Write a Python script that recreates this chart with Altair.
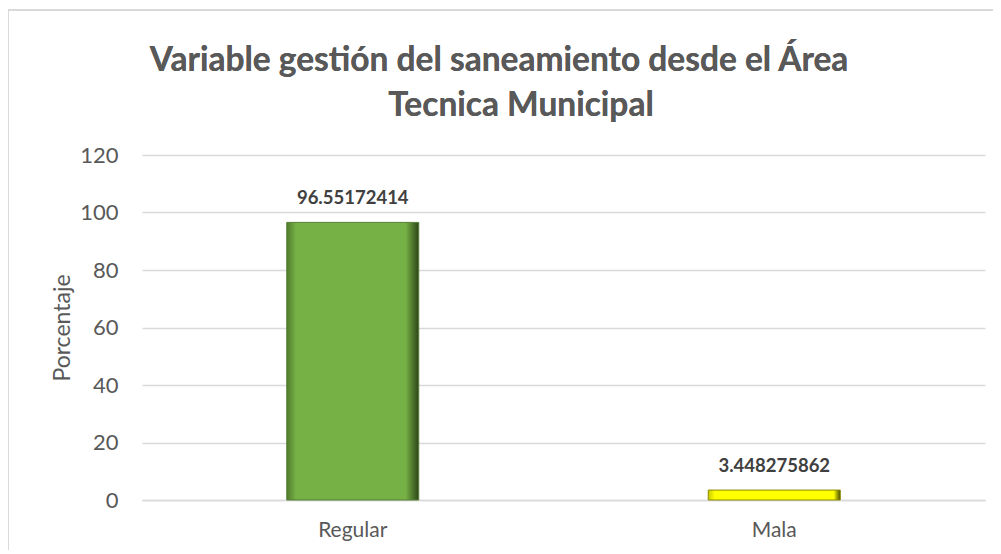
import altair as alt
import pandas as pd

categories = ["Regular", "Mala"]
values = [96.55172414, 3.448275862]
labels = ["96.55172414", "3.448275862"]
title_lines = ["Variable gestión del saneamiento desde el Área", "Tecnica Municipal"]

df = pd.DataFrame({"cat": categories, "val": values, "lab": labels})

FONT = "Lato"
GRAY = "#595959"

x = alt.X("cat:N", sort=categories, title=None,
          scale=alt.Scale(domain=categories, paddingInner=0, paddingOuter=0),
          axis=alt.Axis(labelAngle=0, labelFontSize=21, labelColor=GRAY, labelFont=FONT,
                        ticks=False, domainColor="#d9d9d9", domainWidth=1.5, labelPadding=19))
y = alt.Y("val:Q", title="Porcentaje",
          scale=alt.Scale(domain=[0, 120]),
          axis=alt.Axis(values=[0, 20, 40, 60, 80, 100, 120], labelFontSize=22, labelColor=GRAY,
                        labelFont=FONT, titleFont=FONT, titleFontSize=23, titleColor=GRAY,
                        titleFontWeight="normal", ticks=False, domain=False,
                        gridColor="#d9d9d9", gridWidth=1.5, labelPadding=24, titlePadding=5))

base = alt.Chart(df)

green = alt.Gradient(gradient="linear", x1=0, x2=1, y1=0, y2=0, stops=[
    alt.GradientStop(offset=0, color="#4f7a2c"),
    alt.GradientStop(offset=0.07, color="#76B145"),
    alt.GradientStop(offset=0.9, color="#76B145"),
    alt.GradientStop(offset=1, color="#2c4519"),
])
yellow = alt.Gradient(gradient="linear", x1=0, x2=1, y1=0, y2=0, stops=[
    alt.GradientStop(offset=0, color="#c9c900"),
    alt.GradientStop(offset=0.05, color="#FFFF00"),
    alt.GradientStop(offset=0.95, color="#FFFF00"),
    alt.GradientStop(offset=1, color="#4a4a00"),
])

bar_reg = base.mark_bar(size=132, color=green, stroke="#557f33", strokeWidth=1).encode(
    x=x, y=y).transform_filter(alt.datum.cat == "Regular")
bar_mala = base.mark_bar(size=132, color=yellow, stroke="#8a8a00", strokeWidth=1).encode(
    x=x, y=y).transform_filter(alt.datum.cat == "Mala")

text = base.mark_text(dy=-24, fontSize=18.5, fontWeight="bold", color="#404040", font=FONT).encode(
    x=alt.X("cat:N", sort=categories), y="val:Q", text="lab:N")

t1 = alt.Chart(df).mark_text(fontSize=33.5, font=FONT, fontWeight="bold", color=GRAY,
                             align="center", baseline="middle").encode(
    x=alt.value(357), y=alt.value(-94), text=alt.value(title_lines[0]))
t2 = alt.Chart(df).mark_text(fontSize=33.5, font=FONT, fontWeight="bold", color=GRAY,
                             align="center", baseline="middle").encode(
    x=alt.value(379), y=alt.value(-49), text=alt.value(title_lines[1]))

frame = alt.Chart(df).mark_rule(color="#d9d9d9", strokeWidth=2, clip=False).encode(
    x=alt.value(-134), x2=alt.value(900), y=alt.value(-145))
frame2 = alt.Chart(df).mark_rule(color="#d9d9d9", strokeWidth=2, clip=False).encode(
    x=alt.value(-134), y=alt.value(-145), y2=alt.value(400))

chart = alt.layer(frame, frame2, bar_reg, bar_mala, text, t1, t2).properties(
    width=843, height=345,
    autosize=alt.AutoSizeParams(type="none"),
    padding={"left": 134, "top": 147, "right": 8, "bottom": 50},
).configure_view(stroke=None).configure_axis(grid=True).configure_axisX(grid=False)

chart.save("out.html", embed_options={"renderer": "svg", "actions": False})
